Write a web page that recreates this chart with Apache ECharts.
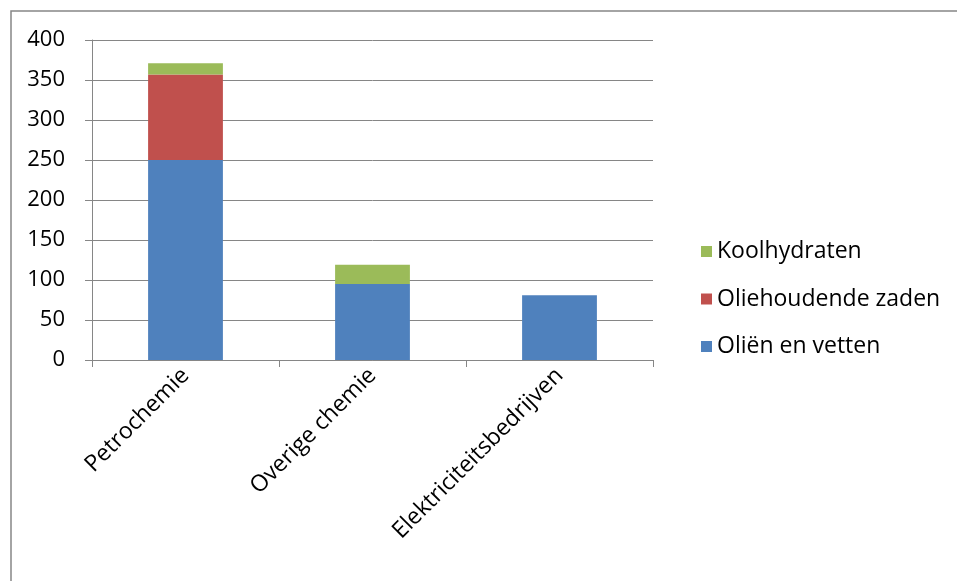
<!DOCTYPE html>
<html>
<head>
<meta charset="utf-8">
<script src="https://cdn.jsdelivr.net/npm/echarts@6/dist/echarts.min.js"></script>
<style>
html,body{margin:0;padding:0;background:#fff;}
#c{width:957px;height:581px;}
</style>
</head>
<body>
<div id="c"></div>
<script>
const categories = ['Petrochemie', 'Overige chemie', 'Elektriciteitsbedrijven'];
const olienEnVetten = [250, 95, 81];
const oliehoudendeZaden = [107, null, null];
const koolhydraten = [14, 24, null];
const yTicks = [0, 50, 100, 150, 200, 250, 300, 350, 400];

const FONT = 'Open Sans';
const chart = echarts.init(document.getElementById('c'));
chart.setOption({
  animation: false,
  backgroundColor: '#fff',
  textStyle: { fontFamily: FONT },
  graphic: [{
    type: 'rect', left: 8.5, top: 8.5,
    shape: { width: 1200, height: 1200 },
    style: { fill: 'none', stroke: '#868686', lineWidth: 1.5 }
  }],
  grid: { left: 92, right: 304, top: 40, bottom: 221, containLabel: false },
  legend: {
    orient: 'vertical',
    left: 696, top: 235,
    itemWidth: 11, itemHeight: 11,
    itemGap: 24.5,
    icon: 'rect',
    data: ['Koolhydraten', 'Oliehoudende zaden', 'Oliën en vetten'],
    textStyle: { fontFamily: FONT, fontSize: 23, color: '#000', lineHeight: 23, padding: [0, 0, 0, 0] }
  },
  xAxis: {
    type: 'category',
    data: categories,
    axisLine: { lineStyle: { color: '#868686', width: 1 } },
    axisTick: { show: true, length: 7, lineStyle: { color: '#868686' } },
    axisLabel: { rotate: 45, fontSize: 23, color: '#000', margin: 12, fontFamily: FONT, interval: 0 }
  },
  yAxis: {
    type: 'value',
    min: yTicks[0], max: yTicks[yTicks.length - 1], interval: 50,
    axisLine: { show: true, lineStyle: { color: '#868686', width: 1 } },
    axisTick: { show: true, length: 7, lineStyle: { color: '#868686' } },
    axisLabel: { fontSize: 22, color: '#000', margin: 27, fontFamily: FONT },
    splitLine: { lineStyle: { color: '#868686', width: 1 } }
  },
  series: [
    { name: 'Oliën en vetten', type: 'bar', stack: 't', data: olienEnVetten, barWidth: '40%', itemStyle: { color: '#4F81BD' } },
    { name: 'Oliehoudende zaden', type: 'bar', stack: 't', data: oliehoudendeZaden, itemStyle: { color: '#C0504D' } },
    { name: 'Koolhydraten', type: 'bar', stack: 't', data: koolhydraten, itemStyle: { color: '#9BBB59' } }
  ]
});
</script>
</body>
</html>
